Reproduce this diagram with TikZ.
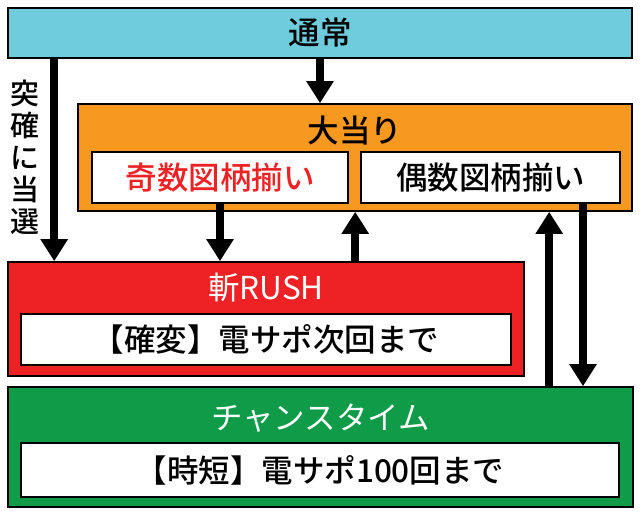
\documentclass[tikz,border=0pt]{standalone}
\usepackage{fontspec}
\setmainfont{Noto Sans CJK JP Medium}
\newfontfamily\lightjp{Noto Sans CJK JP}
\usetikzlibrary{arrows.meta}
\definecolor{cTsujo}{HTML}{6ECCDD}
\definecolor{cOatari}{HTML}{F7991F}
\definecolor{cZan}{HTML}{EE2225}
\definecolor{cCt}{HTML}{0F9B48}
\begin{document}
\begin{tikzpicture}[x=1pt,y=-1pt,
  outerbox/.style={draw=black,line width=1.6pt,minimum width=#1,inner sep=0pt},
  innerbox/.style={draw=black,line width=2pt,fill=white,inner sep=0pt},
  txt/.style={font=\fontsize{31.5}{36}\selectfont,inner sep=0pt},
  wtxt/.style={font=\lightjp\fontsize{31.5}{36}\selectfont,inner sep=0pt,text=white},
  arr/.style={line width=8pt,-{Triangle[width=26pt,length=22pt]}}]
\useasboundingbox (0,0) rectangle (640,514);
% boxes
\node[outerbox=624pt,fill=cTsujo,minimum height=50pt,txt] (tsujo) at (320,33) {通常};
\node[outerbox=554pt,fill=cOatari,minimum height=107pt] (oatari) at (355,157.5) {};
\node[txt] (oatariT) at (355,131) {大当り};
\node[innerbox,minimum width=256pt,minimum height=51pt,txt,text=cZan] (kisu) at (220,177.5) {奇数図柄揃い};
\node[innerbox,minimum width=259pt,minimum height=51pt,txt] (gusu) at (490.5,177.5) {偶数図柄揃い};
\node[outerbox=516pt,fill=cZan,minimum height=114pt] (zan) at (266,319) {};
\node[wtxt] (zanT) at (266,288) {斬RUSH};
\node[innerbox,minimum width=490pt,minimum height=51pt,txt] (zanIn) at (266,339.5) {【確変】電サポ次回まで};
\node[outerbox=625pt,fill=cCt,minimum height=120pt] (ct) at (320.5,447) {};
\node[wtxt] (ctT) at (320.5,418) {チャンスタイム};
\node[innerbox,minimum width=598pt,minimum height=54pt,txt] (ctIn) at (320,470) {【時短】電サポ100回まで};
% label
\node[font=\fontsize{29}{32}\selectfont,align=center,inner sep=0pt] (lbl) at (25,157) {突\\確\\に\\当\\選};
% arrows
\draw[arr] (tsujo.south) -- (tsujo.south |- oatari.north);
\draw[arr] ([xshift=47pt]tsujo.south west) -- ([xshift=47pt]tsujo.south west |- zan.north);
\draw[arr] (kisu.south) -- (kisu.south |- zan.north);
\draw[arr] ([xshift=348pt]zan.north west) -- ([xshift=348pt]zan.north west |- oatari.south);
\draw[arr] ([xshift=542pt]ct.north west) -- ([xshift=542pt]ct.north west |- oatari.south);
\draw[arr] ([xshift=92.5pt]gusu.south) -- ([xshift=92.5pt]gusu.south |- ct.north);
\end{tikzpicture}
\end{document}
